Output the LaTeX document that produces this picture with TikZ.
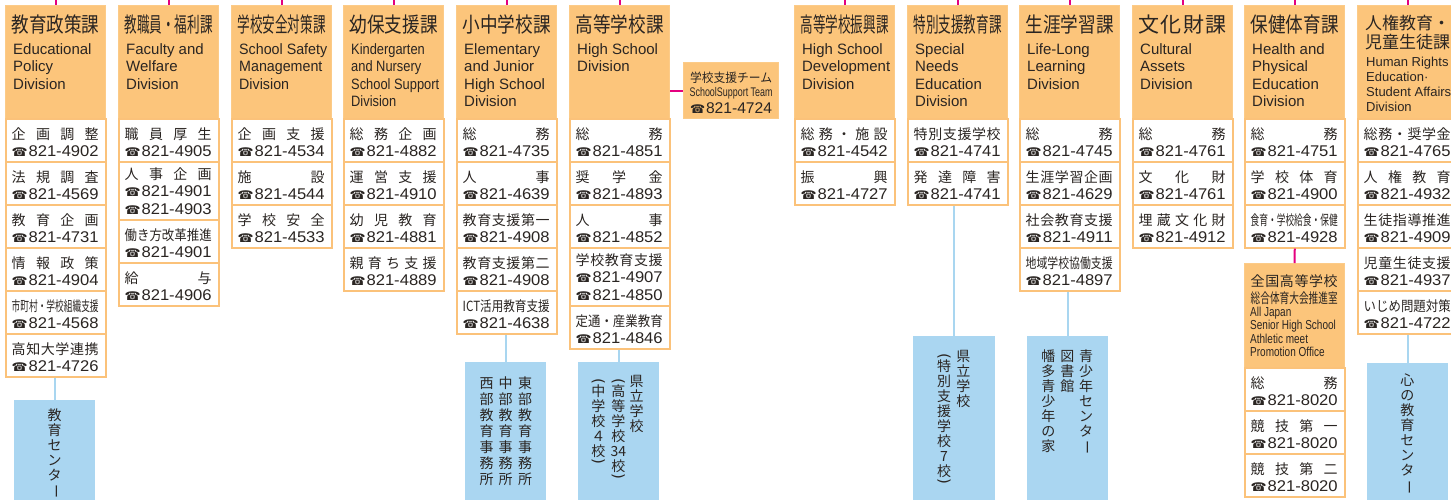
\documentclass[tikz,border=0pt]{standalone}
\usepackage{fontspec}
\usepackage{graphicx}
\setmainfont{Liberation Sans}
\newfontfamily\jp{Noto Sans CJK JP}
\newfontfamily\dv{DejaVu Sans}
\usetikzlibrary{calc}
\definecolor{hdrfill}{HTML}{FCC57B}
\definecolor{hdrline}{HTML}{FCCB88}
\definecolor{cellline}{HTML}{FBC27A}
\definecolor{bluefill}{HTML}{AAD6F1}
\definecolor{blueline}{HTML}{A9D6F0}
\definecolor{mag}{HTML}{E4007F}
\definecolor{ink}{HTML}{2A2522}

\newsavebox\mybox
\def\sprEnd{\sprEnd}
\def\sprE{\sprEnd}
\def\sprA#1{\def\sprT{#1}\ifx\sprT\sprE\else#1\expandafter\sprB\fi}
\def\sprB#1{\def\sprT{#1}\ifx\sprT\sprE\else\hfill#1\expandafter\sprB\fi}
\newcommand\spr[1]{\sprA#1\sprEnd}
\newcommand\fitspread[2]{\sbox\mybox{#2}\ifdim\wd\mybox>#1\relax\resizebox{#1}{\height}{\usebox\mybox}\else\hbox to #1{\spr{#2}}\fi}
\newcommand\fitw[2]{\sbox\mybox{#2}\ifdim\wd\mybox>#1\relax\resizebox{#1}{\height}{\usebox\mybox}\else\usebox\mybox\fi}
\newcommand\lbl[1]{\fitspread{87pt}{#1}}
\newcommand\phw[2]{\resizebox{#1}{\height}{{\dv\fontsize{12}{13}\selectfont ☎}\kern0.8pt{\fontsize{15.5}{16}\selectfont 821-#2}}}
\newcommand\ph[1]{\phw{87pt}{#1}}
\newcommand\engblock[1]{\fitw{88pt}{\vtop{\baselineskip=17.5pt\lineskiplimit=-20pt\lineskip=0pt #1}}}

% vertical text
\def\vlong{ー}\def\vlp{（}\def\vrp{）}
\def\vA#1{\def\sprT{#1}\ifx\sprT\sprE\else\vglyph{#1}\expandafter\vA\fi}
\def\vglyph#1{\def\vT{#1}%
 \ifx\vT\vlong\hbox to 16pt{\hss\rotatebox[origin=c]{-90}{ー}\hss}%
 \else\ifx\vT\vlp\hbox to 16pt{\hss\rotatebox[origin=c]{-90}{\dv\fontsize{15}{15}\selectfont (}\hss}\vskip-5pt
 \else\ifx\vT\vrp\vskip-5pt\hbox to 16pt{\hss\rotatebox[origin=c]{-90}{\dv\fontsize{15}{15}\selectfont )}\hss}%
 \else\hbox to 16pt{\hss#1\hss}\fi\fi\fi}
\newcommand\vcol[2][15pt]{\vtop{\baselineskip=#1\lineskiplimit=-50pt\lineskip=0pt\vA#2\sprEnd}}

\newcommand\hdr[3]{\node[hdrbox] (#1) at (#2,5) {};
 \node[ttl] (#1-t) at ($(#1.north)+(0,27.5)$) {\fitspread{88pt}{#3}};
 \coordinate (#1-top) at ($(#1.north)+(0,-6)$);
 \draw[magl] (#1-top) -- (#1.north);}
\newcommand\eng[2]{\node[eng] (#1-e) at ($(#1.north west)+(8,49.3)$) {\engblock{#2}};}
\newcommand\rowA[5]{\node[cellbox,minimum height=43] (#1) at (#2,#3) {};
 \node[lblt] (#1-l) at ($(#1.north west)+(6.5,21.5)$) {\lbl{#4}};
 \node[pht] (#1-p) at ($(#1.north west)+(6.5,38.7)$) {\ph{#5}};}
\newcommand\rowB[6]{\node[cellbox,minimum height=58] (#1) at (#2,#3) {};
 \node[lblt] (#1-l) at ($(#1.north west)+(6.5,18.5)$) {\lbl{#4}};
 \node[pht] (#1-p) at ($(#1.north west)+(6.5,35.5)$) {\ph{#5}};
 \node[pht] (#1-q) at ($(#1.north west)+(6.5,53)$) {\ph{#6}};}

\begin{document}
\begin{tikzpicture}[x=1pt,y=-1pt,
 hdrbox/.style={anchor=north west,minimum width=100,minimum height=113,inner sep=0,fill=hdrfill,draw=hdrline,line width=1.2},
 cellbox/.style={anchor=north west,minimum width=100,inner sep=0,fill=white,draw=cellline,line width=1.5},
 bluebox/.style={anchor=north west,minimum width=81,inner sep=0,fill=bluefill},
 ttl/.style={anchor=base,inner sep=0,text=ink,font=\jp\fontsize{21}{22}\selectfont},
 eng/.style={anchor=base west,inner sep=0,text=ink,font=\fontsize{15}{17.5}\selectfont},
 lblt/.style={anchor=base west,inner sep=0,text=ink,font=\jp\fontsize{14}{15}\selectfont},
 pht/.style={anchor=base west,inner sep=0,text=ink},
 vt/.style={anchor=base,inner sep=0,text=ink,font=\jp\fontsize{14}{15}\selectfont},
 magl/.style={draw=mag,line width=2},
 bluel/.style={draw=blueline,line width=2}]
\useasboundingbox (0,0) rectangle (1451,499);
\clip (0,0) rectangle (1451,499);
\fill[white] (0,0) rectangle (1451,499);

% ---- Column 1
\hdr{h1}{5}{教育政策課}
\eng{h1}{\hbox{Educational}\hbox{Policy}\hbox{Division}}
\rowA{c1a}{5}{118}{企画調整}{4902}
\rowA{c1b}{5}{161}{法規調査}{4569}
\rowA{c1c}{5}{204}{教育企画}{4731}
\rowA{c1d}{5}{247}{情報政策}{4904}
\rowA{c1e}{5}{290}{市町村・学校組織支援}{4568}
\rowA{c1f}{5}{333}{高知大学連携}{4726}
% ---- Column 2
\hdr{h2}{118}{教職員・福利課}
\eng{h2}{\hbox{Faculty and}\hbox{Welfare}\hbox{Division}}
\rowA{c2a}{118}{118}{職員厚生}{4905}
\rowB{c2b}{118}{161}{人事企画}{4901}{4903}
\rowA{c2c}{118}{219}{働き方改革推進}{4901}
\rowA{c2d}{118}{262}{給与}{4906}
% ---- Column 3
\hdr{h3}{231}{学校安全対策課}
\eng{h3}{\hbox{School Safety}\hbox{Management}\hbox{Division}}
\rowA{c3a}{231}{118}{企画支援}{4534}
\rowA{c3b}{231}{161}{施設}{4544}
\rowA{c3c}{231}{204}{学校安全}{4533}
% ---- Column 4
\hdr{h4}{343}{幼保支援課}
\eng{h4}{\hbox{Kindergarten}\hbox{and Nursery}\hbox{School Support}\hbox{Division}}
\rowA{c4a}{343}{118}{総務企画}{4882}
\rowA{c4b}{343}{161}{運営支援}{4910}
\rowA{c4c}{343}{204}{幼児教育}{4881}
\rowA{c4d}{343}{247}{親育ち支援}{4889}
% ---- Column 5
\hdr{h5}{456}{小中学校課}
\eng{h5}{\hbox{Elementary}\hbox{and Junior}\hbox{High School}\hbox{Division}}
\rowA{c5a}{456}{118}{総務}{4735}
\rowA{c5b}{456}{161}{人事}{4639}
\rowA{c5c}{456}{204}{教育支援第一}{4908}
\rowA{c5d}{456}{247}{教育支援第二}{4908}
\rowA{c5e}{456}{290}{ICT活用教育支援}{4638}
% ---- Column 6
\hdr{h6}{569}{高等学校課}
\eng{h6}{\hbox{High School}\hbox{Division}}
\rowA{c6a}{569}{118}{総務}{4851}
\rowA{c6b}{569}{161}{奨学金}{4893}
\rowA{c6c}{569}{204}{人事}{4852}
\rowB{c6d}{569}{247}{学校教育支援}{4907}{4850}
\rowA{c6e}{569}{305}{定通・産業教育}{4846}
% ---- School support team
\node[hdrbox,minimum width=95,minimum height=56] (team) at (683,62) {};
\node[anchor=base,inner sep=0,text=ink,font=\jp\fontsize{12.5}{13}\selectfont] (team-t) at ($(team.north)+(0,20)$) {\fitspread{82pt}{学校支援チーム}};
\node[anchor=base,inner sep=0,text=ink,font=\fontsize{12.5}{13}\selectfont] (team-e) at ($(team.north)+(0,34.7)$) {\resizebox{83pt}{\height}{SchoolSupport Team}};
\node[anchor=base,inner sep=0,text=ink] (team-p) at ($(team.north)+(0,51.3)$) {\phw{82pt}{4724}};
\draw[magl] (team.west -| h6.east) -- (team.west);
% ---- Column 7
\hdr{h7}{794}{高等学校振興課}
\eng{h7}{\hbox{High School}\hbox{Development}\hbox{Division}}
\rowA{c7a}{794}{118}{総務・施設}{4542}
\rowA{c7b}{794}{161}{振興}{4727}
% ---- Column 8
\hdr{h8}{907}{特別支援教育課}
\eng{h8}{\hbox{Special}\hbox{Needs}\hbox{Education}\hbox{Division}}
\rowA{c8a}{907}{118}{特別支援学校}{4741}
\rowA{c8b}{907}{161}{発達障害}{4741}
% ---- Column 9
\hdr{h9}{1019}{生涯学習課}
\eng{h9}{\hbox{Life-Long}\hbox{Learning}\hbox{Division}}
\rowA{c9a}{1019}{118}{総務}{4745}
\rowA{c9b}{1019}{161}{生涯学習企画}{4629}
\rowA{c9c}{1019}{204}{社会教育支援}{4911}
\rowA{c9d}{1019}{247}{地域学校協働支援}{4897}
% ---- Column 10
\hdr{h10}{1132}{文化財課}
\eng{h10}{\hbox{Cultural}\hbox{Assets}\hbox{Division}}
\rowA{c10a}{1132}{118}{総務}{4761}
\rowA{c10b}{1132}{161}{文化財}{4761}
\rowA{c10c}{1132}{204}{埋蔵文化財}{4912}
% ---- Column 11
\hdr{h11}{1244}{保健体育課}
\eng{h11}{\hbox{Health and}\hbox{Physical}\hbox{Education}\hbox{Division}}
\rowA{c11a}{1244}{118}{総務}{4751}
\rowA{c11b}{1244}{161}{学校体育}{4900}
\rowA{c11c}{1244}{204}{食育・学校給食・保健}{4928}
\node[hdrbox,minimum height=104] (s11) at (1244,263) {};
\draw[magl] (c11c.south) -- (s11.north);
\node[lblt] (s11-t1) at ($(s11.north west)+(6.5,23)$) {\fitspread{87pt}{全国高等学校}};
\node[lblt] (s11-t2) at ($(s11.north west)+(6.5,40.5)$) {\fitspread{87pt}{総合体育大会推進室}};
\node[anchor=base west,inner sep=0,text=ink,font=\fontsize{13}{13.5}\selectfont] (s11-e) at ($(s11.north west)+(6,53)$) {\scalebox{0.77}[1]{\vtop{\baselineskip=13.5pt\lineskiplimit=-20pt\lineskip=0pt\hbox{All Japan}\hbox{Senior High School}\hbox{Athletic meet}\hbox{Promotion Office}}}};
\rowA{s11a}{1244}{367}{総務}{8020}
\rowA{s11b}{1244}{410}{競技第一}{8020}
\rowA{s11c}{1244}{453}{競技第二}{8020}
% ---- Column 12
\node[hdrbox] (h12) at (1357,5) {};
\coordinate (h12-top) at ($(h12.north)+(0,-6)$);
\draw[magl] (h12-top) -- (h12.north);
\node[ttl,font=\jp\fontsize{17}{18}\selectfont] (h12-t) at ($(h12.north)+(0,24.8)$) {人権教育・};
\node[ttl,font=\jp\fontsize{17}{18}\selectfont] (h12-u) at ($(h12.north)+(0,43.2)$) {児童生徒課};
\node[eng,font=\fontsize{13}{15}\selectfont] (h12-e) at ($(h12.north west)+(9,61.2)$) {\vtop{\baselineskip=15pt\lineskiplimit=-20pt\lineskip=0pt\hbox{Human Rights}\hbox{Education·}\hbox{Student Affairs}\hbox{Division}}};
\rowA{c12a}{1357}{118}{総務・奨学金}{4765}
\rowA{c12b}{1357}{161}{人権教育}{4932}
\rowA{c12c}{1357}{204}{生徒指導推進}{4909}
\rowA{c12d}{1357}{247}{児童生徒支援}{4937}
\rowA{c12e}{1357}{290}{いじめ問題対策}{4722}

% ---- Blue boxes
\node[bluebox,minimum height=105] (b1) at (14,400) {};
\node[bluebox,minimum height=143] (b5) at (465,362) {};
\node[bluebox,minimum height=143] (b6) at (578,362) {};
\node[bluebox,minimum width=82,minimum height=169] (b8) at (913,336) {};
\node[bluebox,minimum height=169] (b9) at (1027,336) {};
\node[bluebox,minimum height=142] (b12) at (1367,363) {};
\draw[bluel] (b1.north |- c1f.south) -- (b1.north);
\draw[bluel] (b5.north |- c5e.south) -- (b5.north);
\draw[bluel] (b6.north |- c6e.south) -- (b6.north);
\draw[bluel] (b8.north |- c8b.south) -- (b8.north);
\draw[bluel] (b9.north |- c9d.south) -- (b9.north);
\draw[bluel] (b12.north |- c12e.south) -- (b12.north);

\node[vt] (v1) at (54.5,420) {\vcol{教育センター}};
\node[vt] (v5a) at (525,388.3) {\vcol[16pt]{東部教育事務所}};
\node[vt] (v5b) at (505.7,388.3) {\vcol[16pt]{中部教育事務所}};
\node[vt] (v5c) at (486.7,388.3) {\vcol[16pt]{西部教育事務所}};
\node[vt] (v6a) at (636.7,386.6) {\vcol{県立学校}};
\node[vt] (v6b) at (618.3,386.6) {\vcol{（高等学校{34}校）}};
\node[vt] (v6c) at (598.3,386.6) {\vcol{（中学校４校）}};
\node[vt] (v8a) at (963.3,361.6) {\vcol{県立学校}};
\node[vt] (v8b) at (944,361.6) {\vcol{（特別支援学校7校）}};
\node[vt] (v9a) at (1086,361) {\vcol{青少年センター}};
\node[vt] (v9b) at (1067.3,361) {\vcol{図書館}};
\node[vt] (v9c) at (1048.3,361) {\vcol{幡多青少年の家}};
\node[vt] (v12) at (1407.3,385.6) {\vcol{心の教育センター}};
\end{tikzpicture}
\end{document}
